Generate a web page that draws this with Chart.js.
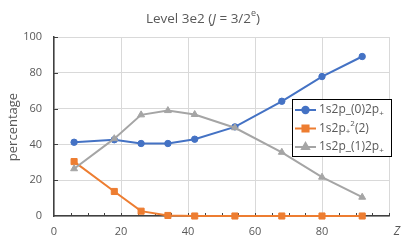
<!DOCTYPE html>
<html>
<head>
<meta charset="utf-8">
<script src="https://cdn.jsdelivr.net/npm/chart.js@4"></script>
<style>
  html, body { margin: 0; padding: 0; background: #fff; }
  #wrap { width: 407px; height: 244px; }
</style>
</head>
<body>
<div id="wrap"><canvas id="chart" width="407" height="244"></canvas></div>
<script>
// Chart data
const zValues = [6, 18, 26, 34, 42, 54, 68, 80, 92];
const p0Plus = [41.2, 42.6, 40.5, 40.5, 42.9, 49.8, 64.1, 77.9, 89.1];
const plusSq = [30.4, 13.7, 2.7, 0.3, 0, 0, 0, 0, 0];
const p1Plus = [26.4, 43.2, 56.5, 58.9, 56.7, 49.3, 35.6, 21.7, 10.5];
const seriesNames = ['1s2p_(0)2p+', '1s2p+²(2)', '1s2p_(1)2p+'];
const xTicks = [0, 20, 40, 60, 80];

const FONT = '"Open Sans", "DejaVu Sans", sans-serif';
const TEXT = '#595959';
const colors = ['#4472C4', '#ED7D31', '#A5A5A5'];
const shapes = ['circle', 'rect', 'triangle'];
const radii = [3.2, 4.3, 4];

function toPoints(ys) {
    return zValues.map((z, i) => ({ x: z, y: ys[i] }));
}

// draws a run of text pieces: [text, style] where style is 'n', 'i', 'sub', 'sup'
function drawRich(ctx, parts, x, y, size, align) {
    const widths = parts.map(([t, s]) => {
        ctx.font = fontFor(s, size);
        return ctx.measureText(t).width;
    });
    const total = widths.reduce((a, b) => a + b, 0);
    let cx = align === 'center' ? x - total / 2 : x;
    parts.forEach(([t, s], i) => {
        ctx.font = fontFor(s, size);
        let dy = 0;
        if (s === 'sub') dy = size * 0.3;
        if (s === 'sup') dy = -size * 0.38;
        ctx.fillText(t, cx, y + dy);
        cx += widths[i];
    });
}
function fontFor(style, size) {
    if (style === 'i') return 'italic ' + size + 'px ' + FONT;
    if (style === 'sub' || style === 'sup') return Math.round(size * 0.65) + 'px ' + FONT;
    return size + 'px ' + FONT;
}

const legendLabels = [
    [['1s2p_(0)2p', 'n'], ['+', 'sub']],
    [['1s2p', 'n'], ['+', 'sub'], ['2', 'sup'], ['(2)', 'n']],
    [['1s2p_(1)2p', 'n'], ['+', 'sub']],
];

const decorPlugin = {
    id: 'decor',
    beforeDatasetsDraw(chart) {
        const ctx = chart.ctx;
        const xs = chart.scales.x, ys = chart.scales.y;
        const left = xs.left, bottom = ys.bottom;
        ctx.save();
        ctx.strokeStyle = '#404040';
        ctx.lineWidth = 1;
        // inward minor ticks on x axis every 5
        for (let v = 5; v <= 100; v += 5) {
            const px = Math.round(xs.getPixelForValue(v)) + 0.5;
            ctx.beginPath();
            ctx.moveTo(px, bottom);
            ctx.lineTo(px, bottom - 3);
            ctx.stroke();
        }
        // inward ticks on y axis every 20
        for (let v = 20; v <= 100; v += 20) {
            const py = Math.round(ys.getPixelForValue(v)) + 0.5;
            ctx.beginPath();
            ctx.moveTo(left, py);
            ctx.lineTo(left + 4, py);
            ctx.stroke();
        }
        ctx.restore();
    },
    afterDraw(chart) {
        const ctx = chart.ctx;
        ctx.save();
        ctx.fillStyle = TEXT;
        ctx.textBaseline = 'middle';
        // title
        ctx.textAlign = 'left';
        drawRich(ctx, [['Level 3e2 (', 'n'], ['J', 'i'], [' = 3/2', 'n'], ['e', 'sup'], [')', 'n']],
            203, 19, 13.5, 'center');
        // y axis title
        ctx.save();
        ctx.translate(13, 127);
        ctx.rotate(-Math.PI / 2);
        ctx.textAlign = 'center';
        ctx.font = '13px ' + FONT;
        ctx.fillText('percentage', 0, 0);
        ctx.restore();
        // x axis title
        ctx.textAlign = 'center';
        ctx.font = 'italic 12px ' + FONT;
        ctx.fillText('Z', 397, 232);

        // legend box
        const bx = 292.5, by = 99.5, bw = 99, bh = 57;
        ctx.fillStyle = '#fff';
        ctx.fillRect(bx, by, bw, bh);
        ctx.strokeStyle = '#000';
        ctx.lineWidth = 1;
        ctx.strokeRect(bx, by, bw, bh);
        const rows = [110, 128.5, 147];
        rows.forEach((ry, i) => {
            ctx.strokeStyle = colors[i];
            ctx.lineWidth = 2;
            ctx.beginPath();
            ctx.moveTo(295, ry);
            ctx.lineTo(316, ry);
            ctx.stroke();
            ctx.fillStyle = colors[i];
            Chart.helpers.drawPoint(ctx, {
                pointStyle: shapes[i], radius: radii[i], borderWidth: 1, rotation: 0
            }, 305.5, ry);
            ctx.fill();
            ctx.fillStyle = TEXT;
            ctx.textAlign = 'left';
            drawRich(ctx, legendLabels[i], 319, ry, 12, 'left');
        });
        ctx.restore();
    }
};

const datasets = [p0Plus, plusSq, p1Plus].map((ys, i) => ({
    label: seriesNames[i],
    data: toPoints(ys),
    showLine: true,
    borderColor: colors[i],
    backgroundColor: colors[i],
    borderWidth: 2,
    pointStyle: shapes[i],
    pointRadius: radii[i],
    pointBorderWidth: 1,
    pointBorderColor: colors[i],
    pointBackgroundColor: colors[i],
    clip: false,
    order: 3 - i,
}));

new Chart(document.getElementById('chart'), {
    type: 'scatter',
    data: { datasets },
    options: {
        responsive: false,
        animation: false,
        events: [],
        layout: { padding: { top: 37, right: 18, left: 0, bottom: 0 } },
        plugins: {
            legend: { display: false },
            tooltip: { enabled: false },
            title: { display: false },
        },
        scales: {
            x: {
                type: 'linear',
                min: 0,
                max: 100,
                afterFit: (s) => { s.height = 28; },
                afterBuildTicks: (s) => { s.ticks = [0, 20, 40, 60, 80, 100].map(v => ({ value: v })); },
                ticks: {
                    padding: 9,
                    color: TEXT,
                    font: { family: FONT, size: 11 },
                    callback: (v) => xTicks.includes(v) ? String(v) : '',
                },
                grid: { color: '#d9d9d9', lineWidth: 1, drawTicks: false },
                border: { color: '#404040', width: 1.5 },
            },
            y: {
                min: 0,
                max: 100,
                afterFit: (s) => { s.width = 54; },
                ticks: {
                    stepSize: 20,
                    padding: 12,
                    color: TEXT,
                    font: { family: FONT, size: 11 },
                },
                grid: { color: '#d9d9d9', lineWidth: 1, drawTicks: false },
                border: { color: '#404040', width: 1.5 },
            },
        },
    },
    plugins: [decorPlugin],
});
</script>
</body>
</html>
